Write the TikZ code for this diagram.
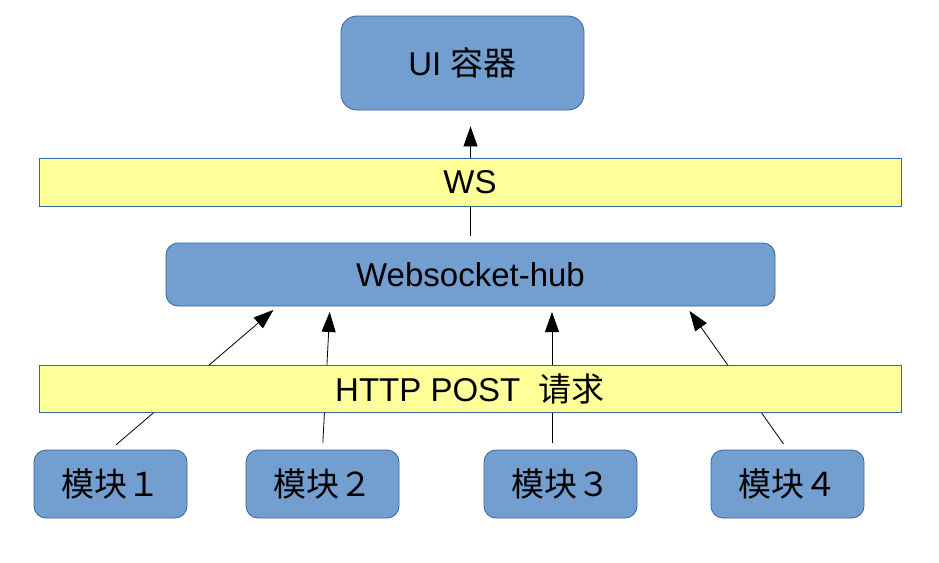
\documentclass[tikz,border=0pt]{standalone}
\usepackage{fontspec}
\setmainfont{Liberation Sans}
\newfontfamily\cjk{Noto Sans CJK SC}
\usetikzlibrary{arrows.meta,calc,positioning}
\definecolor{boxblue}{HTML}{729FCF}
\definecolor{lineblue}{HTML}{3465A4}
\definecolor{bandyellow}{HTML}{FFFF99}
\begin{document}
\begin{tikzpicture}[x=1pt,y=-1pt,
every node/.style={font=\fontsize{33}{40}\selectfont,inner sep=0pt},
box/.style={rectangle,rounded corners=12pt,draw=lineblue,line width=0.8pt,fill=boxblue},
band/.style={rectangle,draw=lineblue,line width=0.6pt,fill=bandyellow,minimum width=862pt},
arr/.style={-{Triangle[length=20pt,width=14pt]},line width=0.8pt,shorten <=7pt,shorten >=6pt}]
\useasboundingbox[fill=white] (0,0) rectangle (939,562);
\node[box,minimum width=243pt,minimum height=94pt,rounded corners=16pt] (ui) at (462.5,63) {UI {\cjk 容器}};
\node[box,minimum width=609pt,minimum height=63pt] (hub) at (470.5,274.5) {Websocket-hub};
\node[box,minimum width=153pt,minimum height=68pt] (m1) at (110.5,484) {\cjk 模块１};
\node[box,minimum width=153pt,minimum height=68pt] (m2) at (322.5,484) {\cjk 模块２};
\node[box,minimum width=153pt,minimum height=68pt] (m3) at (560.5,484) {\cjk 模块３};
\node[box,minimum width=153pt,minimum height=68pt] (m4) at (787.5,484) {\cjk 模块４};
\coordinate (h1) at (278,306);
\coordinate (h2) at (330,306);
\coordinate (h3) at (552,306);
\coordinate (h4) at (686,306);
\draw[arr,shorten >=16pt] (hub.north) -- (hub.north |- ui.south);
\draw[arr] (m1.north) -- (h1);
\draw[arr] (m2.north) -- (h2);
\draw[arr] (m3.north -| h3) -- (h3);
\draw[arr] (m4.north) -- (h4);
\node[band,minimum height=48pt] (ws) at (470,182) {WS};
\node[band,minimum height=47pt] (http) at (470,388.5) {HTTP POST\ \ {\cjk 请求}};
\end{tikzpicture}
\end{document}
